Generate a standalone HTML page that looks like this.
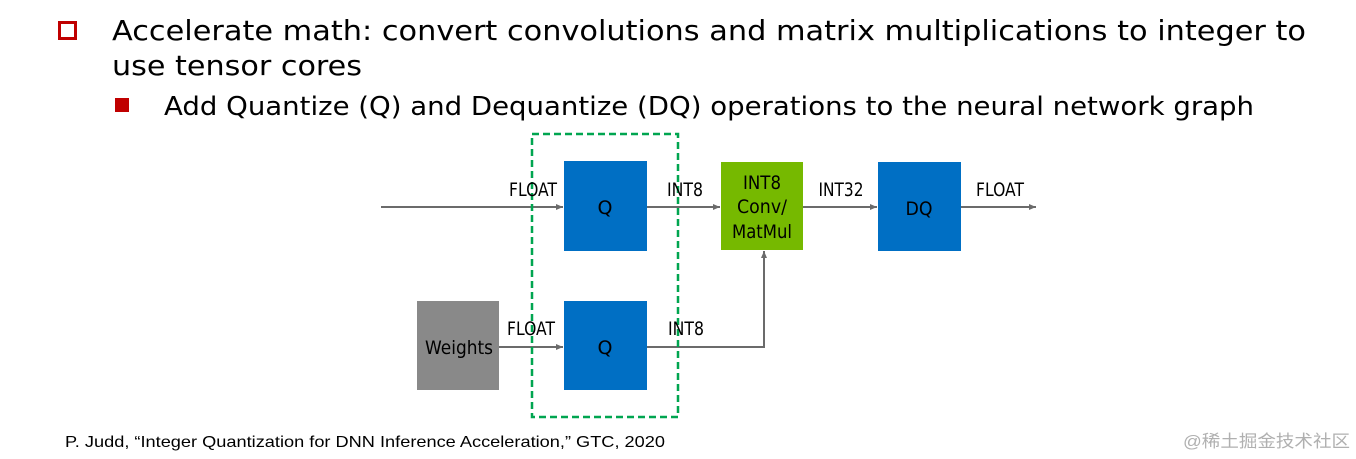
<!DOCTYPE html>
<html><head><meta charset="utf-8"><style>
html,body{margin:0;padding:0;background:#fff;}
svg{display:block;}
text{font-family:"DejaVu Sans","Liberation Sans",sans-serif;}
</style></head><body>
<svg width="1356" height="459" viewBox="0 0 1356 459" xmlns="http://www.w3.org/2000/svg">
<defs><marker id="a" markerWidth="8" markerHeight="8" refX="7" refY="4" orient="auto" markerUnits="userSpaceOnUse"><path d="M0,1 L7,4 L0,7 Z" fill="#6b6b6b"/></marker></defs>
<rect x="59.5" y="22.5" width="16" height="16" fill="none" stroke="#c00000" stroke-width="3"/>
<text x="112" y="40" font-size="28" fill="#000" textLength="1194" lengthAdjust="spacingAndGlyphs">Accelerate math: convert convolutions and matrix multiplications to integer to</text>
<text x="112" y="75" font-size="28" fill="#000" textLength="250" lengthAdjust="spacingAndGlyphs">use tensor cores</text>
<rect x="115" y="98" width="14" height="14" fill="#c00000"/>
<text x="164" y="115" font-size="26" fill="#000" textLength="1090" lengthAdjust="spacingAndGlyphs">Add Quantize (Q) and Dequantize (DQ) operations to the neural network graph</text>

<g stroke="#6b6b6b" stroke-width="2" fill="none">
<line x1="381" y1="207" x2="563" y2="207" marker-end="url(#a)"/>
<line x1="647" y1="207" x2="720" y2="207" marker-end="url(#a)"/>
<line x1="803" y1="207" x2="877" y2="207" marker-end="url(#a)"/>
<line x1="961" y1="207" x2="1036" y2="207" marker-end="url(#a)"/>
<line x1="499" y1="347" x2="563" y2="347" marker-end="url(#a)"/>
<polyline points="647,347 764,347 764,251" marker-end="url(#a)"/>
</g>
<rect x="564" y="161" width="83" height="90" fill="#006fc4"/>
<rect x="564" y="301" width="83" height="89" fill="#006fc4"/>
<rect x="878" y="162" width="83" height="89" fill="#006fc4"/>
<rect x="721" y="162" width="82" height="88" fill="#76b900"/>
<rect x="417" y="301" width="82" height="89" fill="#898989"/>
<rect x="532" y="134" width="146" height="283" fill="none" stroke="#00a550" stroke-width="2.5" stroke-dasharray="7,4"/>
<g font-size="19" fill="#000" text-anchor="middle">
<text x="605" y="214" textLength="15" lengthAdjust="spacingAndGlyphs">Q</text>
<text x="605" y="354" textLength="15" lengthAdjust="spacingAndGlyphs">Q</text>
<text x="919" y="215" textLength="27" lengthAdjust="spacingAndGlyphs">DQ</text>
<text x="459" y="354" textLength="68" lengthAdjust="spacingAndGlyphs">Weights</text>
<text x="762" y="189" textLength="38" lengthAdjust="spacingAndGlyphs">INT8</text>
<text x="762" y="213" textLength="50" lengthAdjust="spacingAndGlyphs">Conv/</text>
<text x="762" y="238" textLength="60" lengthAdjust="spacingAndGlyphs">MatMul</text>
<text x="533" y="196" textLength="48" lengthAdjust="spacingAndGlyphs">FLOAT</text>
<text x="531" y="335" textLength="48" lengthAdjust="spacingAndGlyphs">FLOAT</text>
<text x="685" y="196" textLength="36" lengthAdjust="spacingAndGlyphs">INT8</text>
<text x="686" y="335" textLength="36" lengthAdjust="spacingAndGlyphs">INT8</text>
<text x="841" y="196" textLength="45" lengthAdjust="spacingAndGlyphs">INT32</text>
<text x="1000" y="196" textLength="48" lengthAdjust="spacingAndGlyphs">FLOAT</text>
</g>
<text x="65" y="447" font-size="16" fill="#000" textLength="600" lengthAdjust="spacingAndGlyphs" style="font-family:'Liberation Sans',sans-serif">P. Judd, “Integer Quantization for DNN Inference Acceleration,” GTC, 2020</text>
<text x="1183" y="447" font-size="17" fill="#b0b0b0" textLength="167" lengthAdjust="spacingAndGlyphs" style="font-family:'Liberation Sans','Noto Sans CJK SC',sans-serif">@稀土掘金技术社区</text>
</svg>
</body></html>
